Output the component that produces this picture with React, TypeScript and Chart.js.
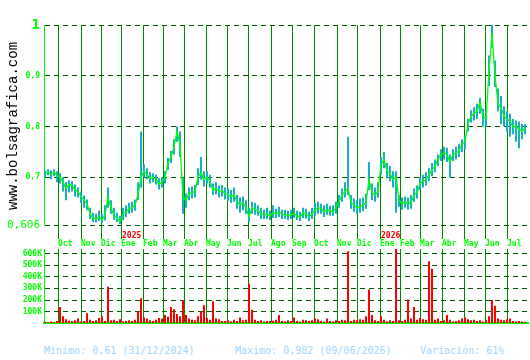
import React, { useEffect, useRef } from 'react';
import { Chart, registerables } from 'chart.js';

Chart.register(...registerables);

const MONO = '"DejaVu Sans Mono", monospace';

// trading-day step between samples
const STEP = 3;
const X_MIN = -1;
const X_MAX = 483;

const closes = [
  0.708, 0.710, 0.706, 0.710, 0.704, 0.700, 0.690, 0.678, 0.686, 0.684,
  0.676, 0.672, 0.662, 0.655, 0.648, 0.628, 0.620, 0.618, 0.622, 0.616,
  0.625, 0.660, 0.640, 0.625, 0.620, 0.612, 0.628, 0.632, 0.638, 0.640,
  0.645, 0.665, 0.700, 0.712, 0.705, 0.698, 0.700, 0.696, 0.686, 0.690,
  0.700, 0.728, 0.740, 0.760, 0.790, 0.765, 0.660, 0.655, 0.668, 0.670,
  0.672, 0.700, 0.710, 0.695, 0.700, 0.692, 0.675, 0.678, 0.672, 0.674,
  0.668, 0.666, 0.662, 0.665, 0.652, 0.645, 0.650, 0.640, 0.622, 0.640,
  0.638, 0.634, 0.628, 0.626, 0.627, 0.624, 0.630, 0.628, 0.632, 0.627,
  0.626, 0.625, 0.626, 0.628, 0.624, 0.622, 0.630, 0.628, 0.622, 0.628,
  0.636, 0.640, 0.638, 0.632, 0.636, 0.634, 0.632, 0.640, 0.652, 0.665,
  0.672, 0.678, 0.650, 0.645, 0.640, 0.642, 0.645, 0.650, 0.695, 0.670,
  0.665, 0.672, 0.725, 0.735, 0.712, 0.708, 0.695, 0.700, 0.655, 0.648,
  0.652, 0.648, 0.650, 0.665, 0.670, 0.688, 0.692, 0.695, 0.705, 0.715,
  0.722, 0.735, 0.745, 0.748, 0.746, 0.730, 0.745, 0.748, 0.752, 0.765,
  0.770, 0.805, 0.820, 0.826, 0.830, 0.848, 0.820, 0.815, 0.910, 0.982,
  0.900, 0.845, 0.838, 0.820, 0.815, 0.810, 0.800, 0.800, 0.795, 0.790,
  0.798,
];

const highs = [
  0.714, 0.716, 0.714, 0.716, 0.712, 0.708, 0.700, 0.690, 0.694, 0.692,
  0.686, 0.680, 0.672, 0.664, 0.656, 0.640, 0.630, 0.628, 0.634, 0.628,
  0.645, 0.680, 0.655, 0.640, 0.630, 0.624, 0.640, 0.645, 0.650, 0.652,
  0.656, 0.690, 0.790, 0.725, 0.718, 0.710, 0.708, 0.705, 0.698, 0.700,
  0.712, 0.738, 0.752, 0.775, 0.800, 0.790, 0.700, 0.668, 0.680, 0.682,
  0.685, 0.718, 0.740, 0.712, 0.712, 0.705, 0.688, 0.690, 0.684, 0.685,
  0.680, 0.678, 0.675, 0.680, 0.665, 0.660, 0.662, 0.655, 0.640, 0.652,
  0.650, 0.645, 0.640, 0.636, 0.640, 0.634, 0.645, 0.638, 0.642, 0.636,
  0.636, 0.634, 0.636, 0.640, 0.634, 0.632, 0.640, 0.638, 0.632, 0.640,
  0.650, 0.652, 0.648, 0.645, 0.648, 0.644, 0.645, 0.652, 0.665, 0.678,
  0.690, 0.780, 0.665, 0.658, 0.655, 0.658, 0.660, 0.668, 0.730, 0.688,
  0.680, 0.690, 0.740, 0.750, 0.728, 0.722, 0.712, 0.712, 0.665, 0.660,
  0.662, 0.660, 0.665, 0.678, 0.684, 0.700, 0.705, 0.710, 0.718, 0.728,
  0.735, 0.745, 0.755, 0.760, 0.758, 0.745, 0.755, 0.760, 0.765, 0.775,
  0.782, 0.815, 0.832, 0.838, 0.845, 0.856, 0.835, 0.830, 0.940, 1.000,
  0.930, 0.875, 0.860, 0.840, 0.830, 0.825, 0.815, 0.812, 0.810, 0.805,
  0.805,
];

const lows = [
  0.700, 0.704, 0.696, 0.702, 0.690, 0.688, 0.672, 0.655, 0.670, 0.672,
  0.662, 0.660, 0.650, 0.640, 0.635, 0.618, 0.612, 0.611, 0.614, 0.610,
  0.615, 0.640, 0.628, 0.616, 0.612, 0.608, 0.616, 0.622, 0.628, 0.630,
  0.634, 0.655, 0.680, 0.700, 0.696, 0.688, 0.690, 0.686, 0.676, 0.680,
  0.688, 0.715, 0.728, 0.745, 0.770, 0.740, 0.628, 0.640, 0.655, 0.658,
  0.660, 0.685, 0.695, 0.682, 0.688, 0.680, 0.665, 0.666, 0.660, 0.662,
  0.656, 0.654, 0.650, 0.652, 0.638, 0.630, 0.635, 0.628, 0.612, 0.628,
  0.626, 0.624, 0.618, 0.618, 0.618, 0.616, 0.620, 0.620, 0.622, 0.618,
  0.618, 0.616, 0.618, 0.620, 0.616, 0.614, 0.620, 0.619, 0.614, 0.618,
  0.624, 0.628, 0.628, 0.622, 0.626, 0.624, 0.624, 0.628, 0.640, 0.652,
  0.660, 0.665, 0.638, 0.632, 0.628, 0.630, 0.633, 0.638, 0.675, 0.655,
  0.652, 0.660, 0.705, 0.718, 0.698, 0.692, 0.680, 0.630, 0.642, 0.636,
  0.640, 0.636, 0.638, 0.652, 0.658, 0.675, 0.680, 0.684, 0.692, 0.702,
  0.710, 0.722, 0.732, 0.735, 0.730, 0.700, 0.732, 0.735, 0.740, 0.750,
  0.755, 0.790, 0.808, 0.812, 0.815, 0.825, 0.800, 0.800, 0.880, 0.955,
  0.878, 0.830, 0.805, 0.800, 0.790, 0.780, 0.785, 0.770, 0.757, 0.775,
  0.785,
];

// volume in thousands
const volumesK = [
  12, 8, 15, 10, 18, 140, 60, 35, 22, 18,
  25, 40, 15, 20, 85, 30, 20, 25, 45, 60,
  20, 315, 25, 30, 20, 35, 15, 20, 25, 20,
  30, 100, 215, 50, 40, 25, 20, 30, 45, 40,
  70, 55, 140, 120, 80, 60, 200, 70, 40, 30,
  25, 60, 100, 155, 45, 30, 190, 40, 35, 20,
  18, 25, 15, 30, 20, 50, 25, 30, 340, 115,
  30, 20, 25, 15, 20, 18, 22, 30, 70, 20,
  15, 25, 18, 50, 20, 15, 30, 25, 20, 25,
  40, 35, 20, 15, 40, 20, 15, 25, 20, 30,
  25, 620, 20, 30, 25, 35, 30, 60, 290, 70,
  25, 20, 60, 30, 15, 25, 20, 640, 25, 20,
  30, 205, 40, 140, 30, 45, 35, 30, 535, 470,
  30, 40, 20, 25, 70, 30, 15, 20, 25, 40,
  50, 35, 25, 30, 20, 25, 15, 30, 60, 200,
  150, 40, 30, 25, 35, 40, 20, 15, 20, 15,
  10,
];

const monthTicks = [13, 36, 56, 76, 98, 118, 139, 161, 182, 203, 226, 247, 269, 292, 312, 335, 355, 375, 397, 419, 440, 462];
const monthLabels = ['Oct', 'Nov', 'Dic', 'Ene', 'Feb', 'Mar', 'Abr', 'May', 'Jun', 'Jul', 'Ago', 'Sep', 'Oct', 'Nov', 'Dic', 'Ene', 'Feb', 'Mar', 'Abr', 'May', 'Jun', 'Jul'];
const yearTicks = [76, 335];
const yearLabels = ['2025', '2026'];

const priceTicks = [0.606, 0.7, 0.8, 0.9, 1];
const priceTickLabels = ['0,606', '0,7', '0,8', '0,9', '1'];
const volumeTicks = [100, 200, 300, 400, 500, 600];
const volumeTickLabels = ['100K', '200K', '300K', '400K', '500K', '600K'];

const watermark = 'www.bolsagrafica.com';
const footerMin = 'Minimo: 0,61 (31/12/2024)';
const footerMax = 'Maximo: 0,982 (09/06/2026)';
const footerVar = 'Variación: 61%';

const LIME = '#00ff00';
const VGRID = '#008a00';
const HGRID = '#006000';

const yearPlugin = {
  id: 'yearLabels',
  afterDraw(chart: any) {
    const { ctx } = chart;
    const xs = chart.scales.x;
    ctx.save();
    ctx.fillStyle = '#ff0000';
    ctx.font = `bold 8px ${MONO}`;
    ctx.textAlign = 'left';
    ctx.textBaseline = 'middle';
    yearTicks.forEach((v, i) => {
      ctx.fillText(yearLabels[i], xs.getPixelForValue(v) + 1, 236);
    });
    ctx.restore();
  },
};

export default function App() {
  const priceRef = useRef<HTMLCanvasElement>(null);
  const volRef = useRef<HTMLCanvasElement>(null);

  useEffect(() => {
    const priceChart = new Chart(priceRef.current as HTMLCanvasElement, {
      type: 'bar',
      data: {
        datasets: [
          {
            type: 'line',
            data: closes.map((y, i) => ({ x: i * STEP, y })),
            borderColor: LIME,
            borderWidth: 1.3,
            pointRadius: 0,
            tension: 0,
            order: 0,
          } as any,
          {
            type: 'bar',
            data: highs.map((h, i) => ({ x: i * STEP, y: [lows[i], h] })),
            backgroundColor: '#10b0bc',
            barPercentage: 0.65,
            categoryPercentage: 1,
            order: 1,
          } as any,
        ],
      },
      options: {
        responsive: false,
        animation: false,
        devicePixelRatio: 1,
        layout: { padding: { top: 25, right: 2, left: 0, bottom: 0 } },
        plugins: { legend: { display: false }, tooltip: { enabled: false } },
        scales: {
          x: {
            type: 'linear',
            min: X_MIN,
            max: X_MAX,
            offset: false,
            afterBuildTicks: (s: any) => { s.ticks = monthTicks.map((value) => ({ value })); },
            afterFit: (s: any) => { s.height = 25; },
            grid: { offset: false, color: VGRID, lineWidth: 1, drawTicks: true, tickLength: 14, tickColor: VGRID },
            border: { display: false },
            ticks: {
              autoSkip: false,
              maxRotation: 0,
              align: 'start',
              padding: 0,
              color: LIME,
              font: { family: MONO, size: 8, weight: 'bold' },
              callback: (_v: any, i: number) => monthLabels[i],
            },
          },
          y: {
            min: 0.606,
            max: 1,
            afterBuildTicks: (s: any) => { s.ticks = priceTicks.map((value) => ({ value })); },
            afterFit: (s: any) => { s.width = 44; },
            grid: { color: HGRID, lineWidth: 1, drawTicks: false },
            border: { display: true, color: LIME, width: 1, dash: [5, 4] },
            ticks: {
              padding: 4,
              color: LIME,
              font: (ctx: any) => {
                const v = ctx.tick ? ctx.tick.value : 0;
                if (v === 1) return { family: MONO, size: 14, weight: 'bold' };
                if (v === 0.606) return { family: MONO, size: 11 };
                return { family: MONO, size: 8, weight: 'bold' };
              },
              callback: (_v: any, i: number) => priceTickLabels[i],
            },
          },
        },
      } as any,
      plugins: [yearPlugin],
    });

    const volChart = new Chart(volRef.current as HTMLCanvasElement, {
      type: 'bar',
      data: {
        datasets: [
          {
            data: volumesK.map((y, i) => ({ x: i * STEP, y })),
            backgroundColor: '#ff0000',
            barPercentage: 0.67,
            categoryPercentage: 1,
          } as any,
        ],
      },
      options: {
        responsive: false,
        animation: false,
        devicePixelRatio: 1,
        layout: { padding: { top: 9, right: 2, left: 0, bottom: 4 } },
        plugins: { legend: { display: false }, tooltip: { enabled: false } },
        scales: {
          x: {
            type: 'linear',
            min: X_MIN,
            max: X_MAX,
            offset: false,
            afterBuildTicks: (s: any) => { s.ticks = monthTicks.map((value) => ({ value })); },
            afterFit: (s: any) => { s.height = 0; },
            grid: { offset: false, color: VGRID, lineWidth: 1, drawTicks: false },
            border: { display: true, color: LIME, width: 2 },
            ticks: { display: false },
          },
          y: {
            min: 0,
            max: 640,
            afterBuildTicks: (s: any) => { s.ticks = volumeTicks.map((value) => ({ value })); },
            afterFit: (s: any) => { s.width = 44; },
            grid: { color: HGRID, lineWidth: 1, drawTicks: false },
            border: { display: true, color: LIME, width: 1, dash: [5, 4] },
            ticks: {
              padding: 2,
              color: LIME,
              font: { family: MONO, size: 8, weight: 'bold' },
              callback: (_v: any, i: number) => volumeTickLabels[i],
            },
          },
        },
      } as any,
    });

    return () => {
      priceChart.destroy();
      volChart.destroy();
    };
  }, []);

  const footerStyle: React.CSSProperties = {
    position: 'absolute',
    top: 345,
    font: `10px ${MONO}`,
    lineHeight: '12px',
    color: '#a0d8ff',
    whiteSpace: 'pre',
  };

  return (
    <div style={{ position: 'fixed', left: 0, top: 0, width: 530, height: 360, background: '#ffffff', overflow: 'hidden' }}>
      <canvas ref={priceRef} width={530} height={250} style={{ position: 'absolute', left: 0, top: 0, width: 530, height: 250 }} />
      <canvas ref={volRef} width={530} height={90} style={{ position: 'absolute', left: 0, top: 240, width: 530, height: 90 }} />
      <div
        style={{
          position: 'absolute',
          left: 13,
          top: 126,
          transform: 'translate(-50%, -50%) rotate(-90deg)',
          font: `14px "Liberation Mono", monospace`,
          color: '#000000',
          whiteSpace: 'nowrap',
          lineHeight: '16px',
        }}
      >
        {watermark}
      </div>
      <div style={{ ...footerStyle, left: 44 }}>{footerMin}</div>
      <div style={{ ...footerStyle, left: 235 }}>{footerMax}</div>
      <div style={{ ...footerStyle, left: 420 }}>{footerVar}</div>
    </div>
  );
}
